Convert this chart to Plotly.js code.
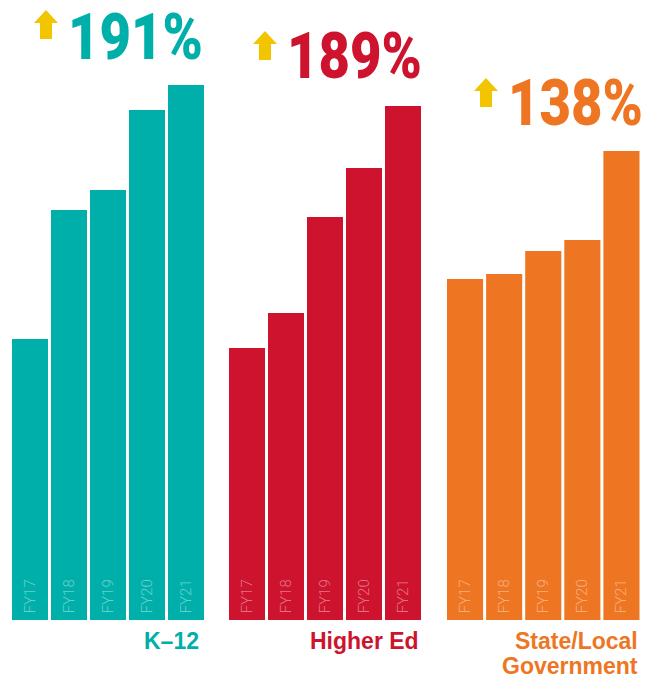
<!DOCTYPE html>
<html><head><meta charset="utf-8">
<script src="https://cdn.plot.ly/plotly-3.0.1.min.js"></script>
<style>html,body{margin:0;padding:0;background:#fff;} #chart{width:657px;height:677px;}</style>
</head><body><div id="chart"></div>
<script>
// ---- data ----
const years = ['FY17', 'FY18', 'FY19', 'FY20', 'FY21'];
const sectorLines = [['K–12'], ['Higher Ed'], ['State/Local', 'Government']];
const k12 = [281, 410, 430, 510, 535];
const higherEd = [272, 307, 403, 452, 514];
const stateLocal = [341, 346, 369, 380, 469];
const growth = ['191%', '189%', '138%'];

// ---- styling ----
const W = 657, H = 677;
const colors = ['#00AFAA', '#CD132E', '#EE7623'];
const arrowColor = '#F2C500';
const px = x => x / W;
const py = y => 1 - y / H;

const series = [k12, higherEd, stateLocal];
const domains = [[10.5, 205.5], [227.5, 422.5], [445.5, 641]];
const axNames = ['x', 'x2', 'x3'];

const traces = series.map((vals, i) => ({
  type: 'bar',
  x: years,
  y: vals,
  xaxis: axNames[i],
  yaxis: 'y',
  marker: {color: colors[i]},
  texttemplate: '\u00a0%{x}',
  textposition: 'inside',
  insidetextanchor: 'start',
  textangle: -90,
  constraintext: 'none',
  textfont: {family: 'Roboto, Liberation Sans, sans-serif', size: 15, weight: 300, color: 'rgba(255,255,255,0.42)'},
  hoverinfo: 'x+y',
  showlegend: false
}));

const layout = {
  width: W, height: H,
  margin: {l: 0, r: 0, t: 0, b: 0},
  paper_bgcolor: '#fff', plot_bgcolor: '#fff',
  bargap: 3 / 39,
  yaxis: {domain: [57 / H, 1], range: [0, 620], visible: false, fixedrange: true},
  annotations: [], shapes: []
};
axNames.forEach((n, i) => {
  const key = i === 0 ? 'xaxis' : 'xaxis' + (i + 1);
  layout[key] = {domain: [px(domains[i][0]), px(domains[i][1])], anchor: 'y', visible: false, type: 'category'};
});

// percentage headings (left x, cap-top y) and arrows
const pctPos = [[66, 12], [285, 32], [506, 78]];
const arrowPos = [[34, 10], [253, 31], [474, 78]];
growth.forEach((g, i) => {
  const [lx, top] = pctPos[i];
  const baseline = top + 47;
  layout.annotations.push({
    xref: 'paper', yref: 'paper', x: px(lx), y: py(baseline - 22.5),
    xanchor: 'left', yanchor: 'middle', showarrow: false,
    text: g,
    font: {family: 'Roboto, Liberation Sans, sans-serif', size: 65, weight: 900, color: colors[i]}
  });
  const [ax, at] = arrowPos[i];
  const pts = [[ax, at + 13], [ax + 12, at], [ax + 24, at + 13], [ax + 18, at + 13], [ax + 18, at + 29], [ax + 6, at + 29], [ax + 6, at + 13]];
  layout.shapes.push({
    type: 'path', xref: 'paper', yref: 'paper',
    path: 'M' + pts.map(p => px(p[0]).toFixed(5) + ',' + py(p[1]).toFixed(5)).join('L') + 'Z',
    fillcolor: arrowColor, line: {width: 0}
  });
});

// sector labels, right aligned under each group
const labelRight = [201, 421, 640];
sectorLines.forEach((lines, i) => {
  lines.forEach((ln, j) => {
    const baseline = 648 + j * 24.5;
    layout.annotations.push({
      xref: 'paper', yref: 'paper', x: px(labelRight[i]), y: py(baseline - 0.905 * 23 - 1),
      xanchor: 'right', yanchor: 'top', showarrow: false,
      text: '<b>' + ln + '</b>',
      font: {family: 'Liberation Sans, Arial, sans-serif', size: 23, color: colors[i]}
    });
  });
});

Plotly.newPlot('chart', traces, layout, {displayModeBar: false, staticPlot: true}).then(gd => {
  // condense the big percentage figures horizontally (the original uses a condensed face)
  const targetW = 135;
  gd.querySelectorAll('.annotation-text').forEach(t => {
    const txt = t.textContent;
    if (growth.indexOf(txt) < 0) return;
    const bb = t.getBBox();
    const s = targetW / bb.width;
    t.setAttribute('transform', 'translate(' + bb.x + ',0) scale(' + s.toFixed(4) + ',1) translate(' + (-bb.x) + ',0)');
  });
});
</script>
</body></html>
